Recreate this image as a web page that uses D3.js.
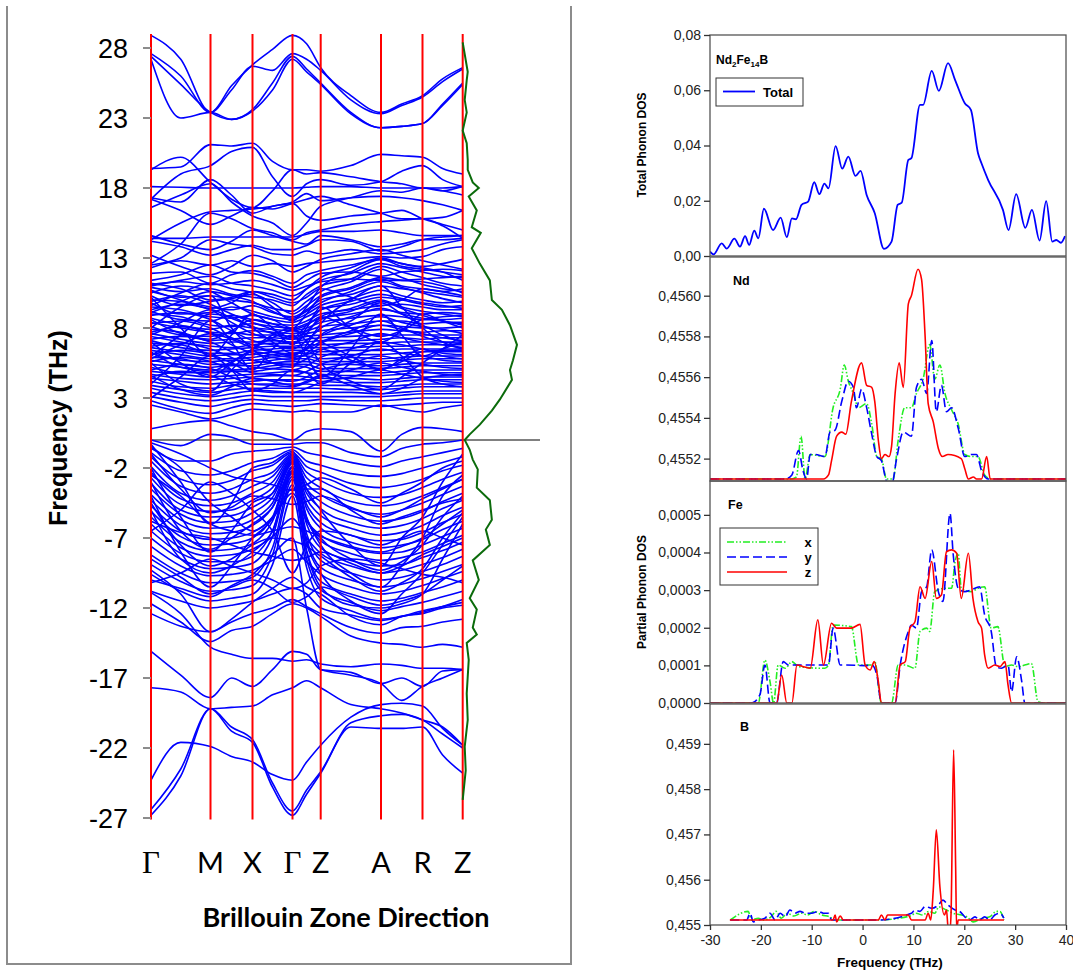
<!DOCTYPE html>
<html lang="en">
<head>
<meta charset="UTF-8">
<title>Nd2Fe14B phonon bands and DOS</title>
<style>
  body { margin: 0; background: #fff; }
  svg text { font-family: "Liberation Sans", Arial, sans-serif; }
</style>
</head>
<body>
<svg id="chart" width="1073" height="972"></svg>
<script src="https://d3js.org/d3.v7.min.js"></script>
<script>
// ---------- band structure data ----------
const kLabels = ["Γ", "M", "X", "Γ", "Z", "A", "R", "Z"];
const kPos = [0, 59.5, 101.5, 141.5, 169.7, 230, 271.5, 311.7];
const freqTicks = [28, 23, 18, 13, 8, 3, -2, -7, -12, -17, -22, -27];

// each band: values at Γ, mid, M, mid, X, mid, Γ, mid, Z, mid, A, mid, R, mid, Z
const bandsTop = [
  [28.9, 27.2, 23.4, 25.3, 26.8, 27.9, 28.9, 28.3, 26.6, 24.6, 23.4, 24.0, 24.6, 25.8, 26.6],
  [27.6, 26.0, 23.4, 25.0, 26.7, 26.4, 27.6, 27.2, 26.4, 24.3, 23.3, 23.9, 24.5, 25.6, 26.5],
  [27.4, 25.4, 23.4, 22.9, 23.6, 25.5, 27.4, 26.5, 25.5, 23.4, 22.3, 22.4, 22.6, 24.0, 25.5],
  [27.2, 23.0, 23.4, 22.9, 23.5, 25.0, 27.2, 26.3, 25.4, 23.3, 22.3, 22.4, 22.6, 23.9, 25.4]
];
const bandsUpper = [
  [19.4, 19.5, 21.1, 21.0, 21.2, 19.9, 19.3, 19.3, 19.2, 19.6, 20.4, 20.3, 20.2, 19.4, 19.0],
  [17.2, 19.0, 19.6, 20.6, 20.9, 18.8, 17.4, 18.3, 18.6, 18.2, 18.45, 19.2, 19.6, 18.6, 18.1],
  [18.1, 18.05, 18.0, 18.0, 18.0, 18.0, 18.0, 18.05, 18.1, 18.1, 18.0, 18.0, 18.0, 17.8, 17.5],
  [17.3, 17.0, 18.6, 17.5, 16.2, 16.7, 17.0, 17.6, 17.1, 17.3, 17.4, 17.3, 17.1, 16.8, 16.4],
  [14.4, 14.4, 14.5, 14.5, 14.5, 14.5, 14.5, 14.7, 14.9, 14.9, 15.0, 14.8, 14.6, 14.6, 14.6],
  [14.3, 15.5, 16.3, 16.4, 16.5, 16.7, 16.9, 16.0, 15.7, 16.0, 16.2, 16.4, 15.8, 15.4, 15.0],
  [16.6, 17.5, 18.3, 17.0, 16.0, 15.5, 14.6, 15.5, 16.7, 17.3, 17.8, 17.7, 18.0, 17.8, 18.1],
  [12.6, 14.0, 16.2, 15.8, 15.1, 14.8, 14.3, 14.8, 15.0, 15.4, 15.6, 15.7, 15.8, 15.3, 14.4],
  [14.2, 13.8, 13.2, 13.6, 13.9, 13.6, 13.6, 13.9, 14.3, 14.2, 13.5, 13.8, 14.3, 14.5, 14.6],
  [12.5, 13.0, 14.3, 14.0, 13.8, 13.3, 13.2, 13.5, 13.3, 13.6, 13.3, 13.4, 13.6, 14.0, 14.3],
  [12.3, 12.8, 12.5, 12.8, 12.4, 12.6, 12.4, 12.6, 12.7, 12.9, 13.1, 13.0, 13.1, 13.6, 13.8],
  [11.9, 12.0, 11.2, 11.8, 12.1, 11.7, 11.2, 11.8, 12.1, 12.5, 12.9, 12.6, 12.4, 12.6, 12.9],
  [11.4, 11.8, 12.5, 12.0, 11.9, 11.5, 10.9, 11.4, 11.9, 12.0, 11.7, 12.0, 12.1, 12.2, 12.1],
  [11.1, 11.3, 11.1, 11.2, 11.4, 11.1, 10.7, 11.0, 11.3, 11.5, 11.4, 11.4, 11.5, 11.6, 11.7],
  [19.3, 20.2, 18.4, 17.2, 16.6, 17.8, 19.3, 19.0, 19.1, 18.8, 18.45, 18.3, 18.0, 18.0, 18.1],
  [17.2, 16.4, 15.4, 16.0, 16.6, 16.5, 16.9, 17.2, 17.4, 16.8, 16.2, 15.8, 15.8, 15.9, 16.4],
  [14.6, 14.0, 13.6, 14.2, 15.0, 14.6, 14.2, 14.0, 14.6, 14.3, 13.8, 14.0, 14.3, 14.3, 14.4],
  [13.2, 12.4, 11.8, 12.4, 13.2, 12.8, 12.0, 12.4, 12.9, 13.3, 13.6, 13.2, 12.8, 12.5, 12.2]
];
const bandsDense = [
  [10.9, 10.6, 10.8, 10.4, 10.2, 10.0, 9.6, 10.4, 11.0, 11.5, 12.4, 12.0, 11.6, 11.2, 11.0],
  [10.6, 10.2, 10.3, 10.0, 9.8, 9.4, 9.2, 9.9, 10.6, 11.3, 12.2, 11.6, 11.1, 10.8, 10.6],
  [10.3, 9.6, 9.9, 10.1, 10.4, 9.8, 9.0, 9.6, 10.3, 10.9, 11.6, 11.4, 11.3, 11.0, 10.5],
  [10.0, 9.9, 9.5, 9.3, 9.6, 9.1, 8.8, 9.3, 10.0, 10.4, 11.0, 10.8, 10.6, 10.4, 10.2],
  [9.8, 9.0, 9.1, 9.5, 9.2, 8.8, 8.6, 9.0, 9.6, 10.1, 10.7, 10.3, 10.0, 9.8, 9.9],
  [9.5, 9.3, 8.8, 8.7, 8.9, 8.6, 8.4, 8.8, 9.3, 9.7, 10.2, 10.0, 9.7, 9.5, 9.6],
  [9.2, 8.6, 8.5, 8.9, 8.6, 8.3, 8.2, 8.5, 9.0, 9.3, 9.6, 9.7, 9.5, 9.3, 9.3],
  [9.0, 8.8, 8.2, 8.1, 8.3, 8.1, 8.0, 8.3, 8.7, 9.0, 9.3, 9.1, 9.0, 9.1, 9.0],
  [8.7, 8.2, 7.9, 8.2, 8.0, 7.9, 7.8, 8.0, 8.4, 8.7, 8.9, 8.8, 8.6, 8.6, 8.7],
  [8.4, 8.0, 7.7, 7.6, 7.8, 7.7, 7.6, 7.8, 8.1, 8.3, 8.5, 8.5, 8.3, 8.4, 8.4],
  [8.1, 7.5, 7.4, 7.7, 7.5, 7.5, 7.4, 7.6, 7.8, 8.0, 8.2, 8.1, 8.0, 8.0, 8.1],
  [7.9, 7.7, 7.1, 7.2, 7.3, 7.3, 7.2, 7.4, 7.5, 7.7, 7.9, 7.8, 7.7, 7.8, 7.8],
  [7.6, 7.2, 6.9, 7.0, 7.0, 7.1, 7.0, 7.2, 7.3, 7.4, 7.5, 7.5, 7.5, 7.5, 7.5],
  [7.4, 7.0, 6.7, 6.6, 6.8, 6.9, 6.9, 7.0, 7.1, 7.1, 7.2, 7.3, 7.2, 7.3, 7.3],
  [7.1, 6.6, 6.4, 6.5, 6.6, 6.7, 6.7, 6.8, 6.8, 6.9, 6.9, 7.0, 7.0, 7.0, 7.0],
  [6.9, 6.8, 6.2, 6.2, 6.4, 6.5, 6.6, 6.6, 6.6, 6.6, 6.7, 6.7, 6.8, 6.8, 6.8],
  [6.6, 6.3, 6.0, 6.1, 6.1, 6.3, 6.4, 6.4, 6.3, 6.4, 6.4, 6.5, 6.5, 6.5, 6.5],
  [6.4, 6.1, 5.8, 5.8, 5.9, 6.1, 6.2, 6.2, 6.1, 6.1, 6.1, 6.2, 6.3, 6.3, 6.3],
  [6.2, 5.7, 5.6, 5.7, 5.7, 5.9, 6.0, 6.0, 5.8, 5.9, 5.8, 5.9, 6.0, 6.0, 6.0],
  [5.9, 5.8, 5.4, 5.4, 5.5, 5.7, 5.8, 5.8, 5.6, 5.6, 5.6, 5.7, 5.8, 5.8, 5.8],
  [5.7, 5.4, 5.2, 5.3, 5.3, 5.5, 5.6, 5.6, 5.4, 5.4, 5.3, 5.4, 5.5, 5.5, 5.5],
  [5.4, 5.2, 5.0, 5.0, 5.1, 5.3, 5.4, 5.4, 5.1, 5.1, 5.1, 5.2, 5.3, 5.3, 5.3],
  [5.2, 4.8, 4.8, 4.9, 4.9, 5.1, 5.3, 5.2, 4.9, 4.9, 4.8, 4.9, 5.0, 5.0, 5.0],
  [4.9, 4.7, 4.5, 4.6, 4.7, 4.8, 4.9, 4.8, 4.7, 4.6, 4.6, 4.7, 4.8, 4.8, 4.8],
  [4.7, 4.4, 4.3, 4.4, 4.5, 4.6, 4.6, 4.5, 4.4, 4.4, 4.3, 4.4, 4.5, 4.5, 4.5],
  [4.4, 4.2, 4.0, 4.1, 4.2, 4.3, 4.3, 4.3, 4.2, 4.1, 4.1, 4.2, 4.3, 4.3, 4.3],
  [4.2, 3.8, 3.7, 3.9, 4.0, 4.0, 4.0, 4.0, 3.9, 3.9, 3.8, 3.9, 4.0, 4.0, 4.0],
  [3.9, 3.6, 3.4, 3.6, 3.7, 3.7, 3.7, 3.7, 3.7, 3.6, 3.6, 3.7, 3.8, 3.8, 3.8],
  [3.7, 3.3, 3.1, 3.3, 3.5, 3.4, 3.4, 3.4, 3.4, 3.4, 3.3, 3.4, 3.5, 3.5, 3.5],
  [3.4, 3.0, 2.8, 3.0, 3.2, 3.1, 3.1, 3.1, 3.1, 3.1, 3.1, 3.2, 3.3, 3.3, 3.3],
  [3.1, 2.7, 2.4, 2.7, 2.9, 2.8, 2.8, 2.8, 2.9, 2.8, 2.8, 2.9, 3.0, 3.0, 3.0],
  [2.8, 2.2, 1.9, 2.3, 2.6, 2.5, 2.4, 2.5, 2.6, 2.5, 2.4, 2.5, 2.6, 2.7, 2.7],
  [10.2, 8.0, 6.0, 7.5, 9.0, 8.0, 6.8, 8.0, 9.5, 8.0, 7.0, 7.8, 9.0, 8.5, 8.0],
  [4.0, 6.0, 8.5, 7.0, 5.0, 6.5, 7.5, 6.0, 4.5, 6.5, 9.0, 7.5, 6.0, 6.5, 7.0],
  [8.0, 9.5, 10.3, 8.0, 6.5, 5.5, 5.2, 6.8, 8.3, 10.0, 11.0, 9.5, 8.0, 7.0, 6.5],
  [5.5, 4.0, 3.5, 5.0, 6.5, 7.5, 8.0, 7.0, 5.5, 4.2, 3.6, 4.5, 5.5, 6.5, 7.5],
  [9.6, 10.5, 11.2, 10.8, 10.5, 9.5, 8.5, 9.5, 10.9, 12.0, 12.9, 12.4, 12.2, 12.0, 11.8],
  [3.0, 4.5, 6.0, 5.0, 3.5, 4.0, 5.0, 4.8, 4.0, 5.5, 7.0, 6.0, 4.5, 4.0, 3.8],
  [7.0, 5.5, 4.5, 5.5, 6.5, 7.3, 7.8, 7.5, 7.0, 6.0, 5.0, 5.8, 6.5, 6.0, 5.8],
  [6.0, 7.5, 9.0, 8.8, 8.0, 7.0, 6.2, 6.5, 7.5, 8.5, 9.8, 9.0, 8.2, 7.5, 7.0],
  [2.5, 2.0, 1.5, 1.8, 2.2, 2.1, 2.0, 2.1, 2.0, 2.0, 2.5, 2.2, 2.0, 2.3, 2.5],
  [11.2, 10.8, 10.0, 10.2, 10.6, 10.4, 10.0, 10.8, 11.6, 12.3, 13.0, 12.6, 12.3, 12.0, 11.4],
  [10.5, 11.0, 10.6, 9.8, 9.0, 8.6, 8.0, 9.0, 10.2, 10.8, 11.5, 11.0, 10.8, 10.6, 10.3],
  [9.9, 10.3, 9.7, 9.0, 8.4, 7.9, 7.3, 8.2, 9.3, 9.9, 10.4, 10.1, 9.8, 9.6, 9.4],
  [9.3, 9.7, 9.3, 8.4, 7.6, 7.2, 6.9, 7.6, 8.8, 9.4, 10.0, 9.5, 9.2, 9.0, 8.8],
  [8.9, 9.1, 8.6, 7.8, 7.1, 6.8, 6.5, 7.1, 8.0, 8.8, 9.4, 9.0, 8.7, 8.5, 8.2],
  [8.3, 8.5, 8.0, 7.3, 6.8, 6.3, 6.0, 6.6, 7.4, 8.2, 8.8, 8.4, 8.1, 7.9, 7.6],
  [7.7, 8.1, 7.6, 6.8, 6.2, 5.9, 5.7, 6.2, 6.9, 7.6, 8.2, 7.9, 7.6, 7.3, 7.1],
  [7.2, 7.4, 7.0, 6.3, 5.7, 5.5, 5.4, 5.8, 6.4, 7.0, 7.6, 7.3, 7.0, 6.8, 6.6],
  [6.7, 6.9, 6.5, 5.9, 5.2, 5.1, 5.0, 5.3, 5.9, 6.5, 7.0, 6.8, 6.5, 6.2, 6.1],
  [6.1, 6.4, 6.1, 5.5, 4.8, 4.7, 4.6, 4.9, 5.4, 6.0, 6.5, 6.2, 6.0, 5.7, 5.6],
  [5.6, 5.9, 5.6, 5.0, 4.4, 4.3, 4.2, 4.5, 5.0, 5.5, 6.0, 5.7, 5.4, 5.2, 5.1],
  [5.0, 5.4, 5.1, 4.5, 4.0, 3.9, 3.8, 4.1, 4.5, 5.0, 5.5, 5.2, 4.9, 4.7, 4.6],
  [4.5, 4.9, 4.6, 4.0, 3.6, 3.5, 3.4, 3.7, 4.1, 4.5, 5.0, 4.7, 4.4, 4.2, 4.1],
  [10.7, 10.0, 9.4, 9.8, 10.6, 10.2, 9.8, 10.2, 10.8, 10.2, 9.6, 10.0, 10.8, 10.6, 10.8],
  [8.6, 7.6, 7.2, 7.8, 8.6, 8.3, 7.9, 8.2, 8.8, 8.0, 7.4, 7.8, 8.6, 8.8, 8.9],
  [6.3, 5.2, 4.9, 5.6, 6.3, 6.1, 5.9, 6.1, 6.5, 5.7, 5.1, 5.6, 6.3, 6.4, 6.4],
  [4.6, 3.6, 3.2, 3.8, 4.4, 4.2, 3.9, 4.2, 4.6, 3.9, 3.3, 3.7, 4.4, 4.6, 4.7],
  [11.0, 11.4, 11.7, 11.2, 11.0, 10.7, 10.3, 10.8, 11.4, 11.9, 12.6, 12.3, 12.0, 11.7, 11.6],
  [9.1, 9.9, 10.6, 10.3, 9.9, 9.2, 8.7, 9.2, 9.8, 10.6, 11.3, 10.9, 10.5, 10.1, 9.8],
  [7.5, 8.4, 9.3, 8.7, 8.1, 7.6, 7.2, 7.8, 8.6, 9.2, 9.9, 9.4, 8.9, 8.5, 8.3],
  [5.8, 6.8, 7.6, 7.2, 6.6, 6.3, 6.1, 6.5, 7.0, 7.8, 8.5, 8.0, 7.4, 7.0, 6.9]
];
const bandsNeg = [
  [0.8, 1.2, 1.4, 1.0, 0.6, 0.4, 0.0, 0.6, 0.8, 0.6, -0.8, 0.4, 0.9, 0.8, 0.6],
  [0.0, -0.4, 0.4, 0.2, -0.3, -0.3, -0.3, -0.2, -0.2, -0.9, -1.2, -0.6, -0.3, -0.2, 0.0],
  [-0.5, -1.5, -1.5, -1.0, -0.8, -0.7, -0.5, -0.9, -1.1, -1.6, -1.9, -1.5, -1.2, -0.9, -0.6],
  [-0.9, -2.2, -2.5, -2.2, -1.6, -1.3, -0.7, -1.5, -1.8, -2.4, -2.6, -2.4, -2.0, -1.6, -1.2],
  [-1.2, -2.8, -3.2, -2.9, -2.2, -1.8, -0.9, -1.9, -2.3, -3.1, -3.4, -3.2, -2.8, -2.2, -1.8],
  [-1.5, -3.3, -3.8, -3.5, -2.8, -2.3, -1.0, -2.3, -2.9, -3.8, -4.1, -3.9, -3.4, -2.8, -2.3],
  [-1.9, -3.8, -4.3, -4.0, -3.3, -2.6, -1.1, -2.7, -3.4, -4.4, -4.7, -4.5, -4.0, -3.4, -2.8],
  [-2.3, -4.2, -4.7, -4.5, -3.8, -3.0, -1.2, -3.1, -3.9, -4.9, -5.3, -5.0, -4.5, -3.9, -3.3],
  [-2.7, -4.6, -5.1, -5.0, -4.3, -3.4, -1.3, -3.5, -4.4, -5.4, -5.8, -5.6, -5.1, -4.4, -3.8],
  [-3.1, -5.0, -5.5, -5.4, -4.8, -3.8, -1.4, -3.8, -4.9, -5.9, -6.3, -6.1, -5.6, -4.9, -4.3],
  [-3.5, -5.3, -5.9, -5.8, -5.2, -4.1, -1.5, -4.2, -5.4, -6.3, -6.8, -6.6, -6.1, -5.4, -4.8],
  [-3.9, -5.7, -6.3, -6.2, -5.7, -4.5, -1.6, -4.6, -5.9, -6.8, -7.2, -7.1, -6.6, -5.9, -5.3],
  [-4.3, -6.1, -6.7, -6.6, -6.1, -4.8, -1.7, -4.9, -6.3, -7.3, -7.7, -7.5, -7.1, -6.4, -5.8],
  [-4.7, -6.5, -7.1, -7.0, -6.6, -5.6, -3.8, -5.8, -6.8, -7.7, -8.1, -8.0, -7.5, -6.9, -6.3],
  [-5.1, -6.9, -7.5, -7.4, -7.0, -5.5, -1.9, -5.6, -7.2, -8.1, -8.6, -8.4, -8.0, -7.4, -6.8],
  [-5.5, -7.3, -7.9, -7.8, -7.4, -5.8, -2.0, -6.0, -7.7, -8.6, -9.0, -8.9, -8.4, -7.9, -7.3],
  [-6.0, -7.7, -8.3, -8.2, -7.8, -6.9, -5.6, -7.0, -8.1, -9.0, -9.5, -9.3, -8.9, -8.4, -7.8],
  [-6.5, -8.1, -8.7, -8.7, -8.3, -6.5, -2.2, -6.7, -8.6, -9.5, -10.0, -9.8, -9.4, -8.9, -8.3],
  [-7.0, -8.5, -9.2, -9.1, -8.8, -6.9, -2.3, -7.1, -9.1, -10.0, -10.5, -10.3, -9.9, -9.4, -8.9],
  [-7.6, -9.0, -9.7, -9.6, -9.3, -8.6, -7.8, -8.7, -9.6, -10.5, -11.0, -10.8, -10.4, -9.9, -9.4],
  [-8.2, -9.5, -10.2, -10.1, -9.8, -7.7, -2.8, -7.9, -10.1, -11.0, -11.5, -11.3, -10.9, -10.5, -10.0],
  [-8.9, -10.1, -10.8, -10.7, -10.4, -8.2, -3.2, -8.5, -10.7, -11.6, -12.2, -11.9, -11.6, -11.2, -10.8],
  [-9.6, -10.8, -11.5, -11.3, -11.0, -8.9, -4.0, -9.1, -11.3, -12.2, -12.8, -12.6, -12.3, -11.9, -11.4],
  [-0.3, -3.0, -6.0, -4.5, -2.0, -1.6, -0.8, -3.5, -5.0, -7.5, -9.0, -7.0, -5.5, -3.0, -1.0],
  [-2.0, -5.5, -8.0, -6.5, -4.5, -3.8, -1.6, -5.5, -7.5, -9.5, -10.5, -9.0, -7.0, -4.0, -2.5],
  [-4.0, -8.0, -10.5, -9.0, -7.0, -5.6, -2.4, -7.4, -9.5, -11.5, -12.4, -11.0, -9.5, -7.5, -5.5],
  [-0.6, -2.0, -4.5, -5.5, -6.5, -5.5, -3.5, -3.5, -3.5, -5.0, -6.0, -5.5, -5.0, -4.5, -4.2],
  [-6.5, -5.0, -3.0, -3.8, -5.0, -6.5, -9.5, -7.5, -6.5, -6.8, -7.5, -7.0, -6.5, -7.0, -7.5],
  [-10.2, -9.5, -8.5, -9.0, -9.5, -10.0, -10.6, -10.2, -9.0, -8.5, -8.8, -9.2, -9.6, -9.8, -10.2],
  [-10.8, -11.5, -12.0, -11.8, -11.5, -11.0, -10.6, -11.0, -12.0, -12.5, -12.9, -12.6, -12.2, -11.9, -11.6],
  [-3.0, -6.5, -7.8, -7.0, -6.0, -4.8, -2.2, -5.6, -7.0, -8.5, -9.3, -8.7, -7.5, -5.5, -4.0],
  [-5.0, -8.5, -9.5, -9.0, -8.0, -6.5, -2.6, -8.0, -10.5, -11.8, -12.0, -11.7, -11.0, -8.5, -6.0],
  [-1.0, -3.5, -5.2, -4.8, -4.0, -4.2, -4.6, -4.4, -4.0, -4.8, -5.5, -5.0, -4.2, -3.5, -2.8],
  [-2.5, -4.0, -6.0, -6.5, -6.8, -6.5, -6.2, -6.5, -6.9, -7.6, -8.0, -7.6, -7.0, -6.0, -5.0],
  [-5.8, -6.6, -7.0, -7.5, -8.0, -8.3, -8.6, -8.4, -8.0, -8.8, -9.5, -9.0, -8.2, -7.6, -7.0],
  [-8.5, -9.8, -11.0, -10.5, -10.0, -10.6, -11.6, -11.2, -10.5, -11.2, -11.8, -11.5, -11.0, -10.0, -9.0],
  [-0.2, -1.0, -2.0, -2.6, -2.9, -3.2, -3.6, -3.2, -2.7, -3.5, -4.5, -3.8, -3.0, -2.0, -1.5],
  [-4.5, -7.5, -9.0, -8.5, -7.5, -7.0, -7.2, -7.6, -8.3, -9.8, -10.8, -10.2, -9.2, -7.0, -5.2]
];
const bandsLow = [
  [-26.8, -24.0, -19.2, -20.8, -21.6, -24.8, -26.8, -25.3, -23.8, -20.5, -20.6, -20.6, -20.5, -22.5, -23.8],
  [-26.4, -23.5, -19.2, -20.5, -21.4, -24.5, -26.5, -25.0, -23.7, -20.2, -19.7, -19.6, -20.0, -21.0, -22.0],
  [-24.3, -21.6, -21.9, -22.6, -23.0, -23.9, -24.3, -23.0, -21.8, -19.8, -18.9, -18.8, -19.0, -20.6, -21.8],
  [-15.1, -16.8, -18.4, -17.0, -17.6, -16.4, -15.1, -15.3, -16.4, -16.6, -17.4, -17.0, -17.6, -16.5, -16.4],
  [-17.7, -18.0, -19.2, -19.1, -19.0, -18.2, -17.7, -17.2, -17.7, -18.9, -19.2, -19.5, -20.0, -20.5, -21.8],
  [-11.7, -13.0, -14.4, -13.6, -13.3, -12.4, -11.7, -12.0, -12.6, -14.0, -14.5, -14.6, -14.8, -14.6, -14.8],
  [-12.4, -13.3, -13.7, -13.0, -12.4, -12.0, -11.4, -11.9, -12.4, -13.4, -13.8, -13.4, -13.3, -13.0, -12.8],
  [-10.9, -12.4, -14.8, -15.3, -15.6, -15.6, -15.8, -15.7, -16.0, -16.2, -16.0, -16.1, -16.3, -16.3, -16.4],
  [-10.0, -10.6, -11.2, -10.4, -9.6, -8.2, -7.0, -12.0, -16.4, -16.8, -17.4, -18.6, -17.6, -17.0, -16.4],
  [-9.3, -11.0, -13.7, -12.8, -11.6, -10.6, -9.8, -10.5, -11.0, -12.6, -13.2, -12.6, -12.4, -12.0, -11.8]
];
// projected DOS beside the bands: [frequency THz, DOS]
const sideDos = [[28.4, 0], [26.3, 0.005], [25.7, 0.004], [24.3, 0.002], [23.4, 0.004], [22.1, 0],
  [21.2, 0.004], [20, 0.005], [19.3, 0.005], [18.4, 0.010], [18, 0.016], [17.4, 0.006], [16.4, 0.014],
  [15.2, 0.009], [14.8, 0.018], [13.7, 0.009], [12.6, 0.017], [11.4, 0.027], [10, 0.029], [9.3, 0.039],
  [8.2, 0.047], [6.8, 0.054], [5.7, 0.050], [5, 0.047], [4.3, 0.049], [2.9, 0.037], [2.1, 0.029],
  [1.1, 0.017], [0.4, 0.007], [0, 0.002], [-0.7, 0.007], [-1.4, 0.010], [-2.1, 0.015], [-3.4, 0.014],
  [-4.3, 0.027], [-5.7, 0.029], [-6.4, 0.023], [-7.5, 0.027], [-8.6, 0.010], [-10, 0.016], [-11.3, 0.007],
  [-12.1, 0.014], [-13.4, 0.010], [-13.9, 0.014], [-14.5, 0.004], [-15.7, 0.006], [-18.1, 0.004],
  [-20, 0.005], [-21.9, 0.002], [-23.6, 0.003], [-25.7, 0]];

// ---------- DOS panels data: [frequency THz, value] ----------
const totalDos = [[-30, 0.0016], [-29.3, 0.0006], [-27.7, 0.0046], [-26.7, 0.0027], [-25.2, 0.0063],
  [-24.1, 0.0034], [-23.1, 0.0072], [-22.3, 0.004], [-21.3, 0.0092], [-20.5, 0.0064], [-19.4, 0.0171],
  [-17.6, 0.0094], [-16.1, 0.0139], [-14.9, 0.0068], [-13.9, 0.0136], [-13.1, 0.0133], [-12.0, 0.0185],
  [-10.7, 0.0197], [-9.5, 0.0267], [-8.5, 0.0224], [-7.5, 0.0262], [-6.7, 0.0245], [-5.3, 0.0398],
  [-4.0, 0.0316], [-2.8, 0.036], [-1.4, 0.029], [-0.4, 0.0308], [0.8, 0.0221], [2.4, 0.0155],
  [4.2, 0.0026], [5.7, 0.0052], [6.9, 0.0185], [7.7, 0.0193], [9.0, 0.0348], [9.6, 0.0354],
  [11.3, 0.0547], [11.9, 0.0547], [13.6, 0.067], [15.0, 0.0598], [16.8, 0.0698], [18.2, 0.0637],
  [20.1, 0.0553], [21.3, 0.0529], [22.7, 0.0372], [23.4, 0.0335], [24.7, 0.0275], [27.6, 0.0167],
  [28.7, 0.0094], [30.2, 0.0224], [32.0, 0.0102], [33.3, 0.0167], [34.8, 0.0056], [36.1, 0.0199],
  [37.3, 0.0052], [38.1, 0.0058], [39.0, 0.0048], [39.8, 0.0072]];

const ndX = [[-30, 0.4551], [-13.9, 0.4551], [-13.0, 0.45511], [-12.1, 0.45531], [-11.3, 0.4551],
  [-10.3, 0.45522], [-7.4, 0.45521], [-5.8, 0.45545], [-4.4, 0.45554], [-3.6, 0.45566], [-2.8, 0.45558],
  [-1.8, 0.45552], [-0.8, 0.45545], [0.8, 0.45547], [1.8, 0.45537], [2.8, 0.45521], [3.7, 0.4552],
  [4.7, 0.4551], [6.0, 0.4551], [7.0, 0.45529], [8.3, 0.45545], [9.6, 0.45545], [10.6, 0.45552],
  [11.9, 0.45559], [13.2, 0.45576], [14.2, 0.45559], [15.2, 0.45566], [16.2, 0.45552], [17.5, 0.45544],
  [18.8, 0.45537], [20.1, 0.45522], [21.4, 0.45521], [22.7, 0.45521], [24.0, 0.45512], [25.3, 0.4551],
  [40, 0.4551]];
const ndY = [[-30, 0.4551], [-15.2, 0.4551], [-13.9, 0.45512], [-12.6, 0.45524], [-11.7, 0.45514],
  [-11.0, 0.4551], [-10.3, 0.45522], [-9.4, 0.45522], [-7.4, 0.45521], [-6.4, 0.45533], [-5.4, 0.45534],
  [-4.1, 0.45548], [-2.8, 0.45558], [-1.8, 0.45555], [-1.2, 0.45545], [-0.2, 0.45554], [0.8, 0.45545],
  [1.8, 0.45532], [2.8, 0.45521], [3.7, 0.45519], [4.7, 0.45509], [5.7, 0.45507], [6.7, 0.4552],
  [8.0, 0.45533], [9.6, 0.45531], [10.6, 0.45555], [11.6, 0.45559], [12.6, 0.45552], [13.6, 0.45578],
  [14.5, 0.45543], [15.5, 0.45556], [16.5, 0.45543], [17.5, 0.45545], [18.8, 0.45535], [20.1, 0.45521],
  [21.4, 0.45522], [22.4, 0.45522], [23.4, 0.45514], [24.7, 0.4551], [26.0, 0.4551], [40, 0.4551]];
const ndZ = [[-30, 0.4551], [-7.7, 0.4551], [-6.7, 0.45512], [-6.1, 0.45519], [-5.1, 0.45531],
  [-4.1, 0.45533], [-3.3, 0.45532], [-2.2, 0.45548], [-0.2, 0.45567], [0.8, 0.45556], [1.8, 0.45555],
  [2.4, 0.45548], [3.1, 0.45529], [3.7, 0.4552], [4.4, 0.45522], [5.2, 0.45521], [5.7, 0.45526],
  [6.4, 0.45552], [7.2, 0.45567], [8.0, 0.45555], [9.0, 0.45596], [9.6, 0.456], [10.9, 0.45613],
  [11.6, 0.45608], [12.3, 0.4558], [12.9, 0.45547], [13.9, 0.45538], [14.9, 0.45525], [15.7, 0.45521],
  [16.8, 0.45522], [19.4, 0.4552], [20.1, 0.45515], [20.8, 0.4551], [21.8, 0.45511], [22.4, 0.4551],
  [23.4, 0.4551], [24.4, 0.45521], [25.1, 0.4551], [40, 0.4551]];

const feX = [[-30, 0], [-20.5, 0], [-19.2, 0.000114], [-18.2, 0.0000567], [-17.5, 0], [-16.6, 0.000101],
  [-15.2, 0.0000922], [-13.9, 0.00011], [-12.6, 0.0000966], [-7.4, 0.0000922], [-6.7, 0.000101],
  [-5.8, 0.000207], [-2.2, 0.000203], [-0.8, 0.000101], [1.8, 0.000101], [2.4, 0.00011], [3.7, 0],
  [5.7, 0], [7.0, 0.000101], [8.3, 0.000101], [10.3, 0.0000922], [11.3, 0.00019], [12.6, 0.000199],
  [13.2, 0.00019], [14.2, 0.000296], [16.2, 0.000305], [17.5, 0.000305], [18.2, 0.000376],
  [18.8, 0.000398], [19.4, 0.000305], [21.4, 0.000296], [22.7, 0.000305], [24.0, 0.000309],
  [25.3, 0.000199], [26.6, 0.000203], [28.0, 0.0000966], [29.3, 0.000101], [30.6, 0.0000966],
  [31.9, 0.000101], [33.2, 0.000105], [34.5, 0.0000035], [35.8, 0], [40, 0]];
const feY = [[-30, 0], [-21.8, 0], [-20.2, 0.0000213], [-19.2, 0.000101], [-18.2, 0], [-16.9, 0],
  [-15.6, 0.00011], [-14.6, 0.000101], [-13.3, 0.000101], [-8.7, 0.000101], [-6.7, 0.000101],
  [-5.8, 0.000199], [-4.4, 0.000101], [-3.5, 0.000101], [0.5, 0.0000993], [1.8, 0.000101],
  [2.8, 0.0000745], [3.7, 0], [6.4, 0], [7.4, 0.000101], [9.0, 0.00019], [9.6, 0.000207],
  [10.6, 0.000199], [11.6, 0.000296], [12.6, 0.000309], [13.6, 0.000407], [14.9, 0.000296],
  [15.8, 0.00027], [17.2, 0.000504], [17.8, 0.000398], [18.8, 0.000305], [20.1, 0.000296],
  [21.4, 0.000301], [23.0, 0.000309], [24.0, 0.000234], [25.3, 0.00019], [26.3, 0.0000966],
  [27.3, 0.0000922], [28.6, 0.000101], [29.3, 0.0000301], [30.3, 0.000123], [31.3, 0.0000567],
  [31.9, 0], [40, 0]];
const feZ = [[-30, 0], [-16.9, 0], [-15.9, 0.0000745], [-14.9, 0], [-13.9, 0], [-12.9, 0.000101],
  [-11.6, 0.0000966], [-10.3, 0.0000922], [-8.8, 0.000221], [-7.7, 0.000101], [-6.1, 0.000212],
  [-5.1, 0.000199], [-2.2, 0.000199], [-0.5, 0.000209], [0.5, 0.000101], [1.5, 0.0000878],
  [2.3, 0.00011], [3.1, 0.0000567], [3.7, 0], [6.4, 0], [7.4, 0.000101], [8.4, 0.00011],
  [9.3, 0.000199], [10.3, 0.000216], [11.3, 0.000309], [12.3, 0.000278], [13.6, 0.000376],
  [14.5, 0.000278], [15.5, 0.000287], [16.5, 0.000402], [17.5, 0.000407], [18.5, 0.000398],
  [19.4, 0.000278], [20.8, 0.000398], [21.7, 0.000278], [22.7, 0.000216], [23.4, 0.000199],
  [24.0, 0.000128], [24.7, 0.0000922], [26.0, 0.000101], [27.0, 0.0000966], [28.0, 0.00011],
  [28.6, 0.0000479], [29.3, 0], [40, 0]];

const bX = [[-26, 0.45511], [-22.5, 0.4553], [-21.8, 0.45511], [-20.5, 0.45515], [-19.5, 0.45511],
  [-18.0, 0.45518], [-17.0, 0.4553], [-16.0, 0.45515], [-14.8, 0.45526], [-13.5, 0.4552], [-12.0, 0.45526],
  [-10.8, 0.45522], [-9.5, 0.4553], [-8.0, 0.45522], [-6.5, 0.45518], [-5.5, 0.45511], [3.0, 0.45511],
  [9.4, 0.4552], [10.5, 0.45526], [11.8, 0.45522], [13.0, 0.4553], [14.2, 0.45526], [15.0, 0.4554],
  [16.5, 0.45533], [17.8, 0.45526], [19.5, 0.45522], [20.5, 0.45518], [21.8, 0.45507], [23.5, 0.45515],
  [25.0, 0.45518], [26.3, 0.4553], [27.0, 0.4553], [27.8, 0.45511]];
const bY = [[-26, 0.45511], [-22.8, 0.45511], [-22.1, 0.45526], [-21.5, 0.45507], [-20.5, 0.45511],
  [-19.2, 0.45515], [-18.2, 0.45526], [-17.2, 0.45511], [-16.2, 0.45526], [-15.2, 0.45518],
  [-14.3, 0.45533], [-13.3, 0.45526], [-12.3, 0.4553], [-11.3, 0.45526], [-10.0, 0.45526],
  [-8.7, 0.4553], [-7.7, 0.45526], [-6.7, 0.45526], [-6.1, 0.45511], [-4.8, 0.45511], [3.1, 0.45511],
  [9.6, 0.45526], [10.3, 0.45533], [11.3, 0.4553], [12.3, 0.45541], [13.6, 0.45537], [14.9, 0.45544],
  [15.8, 0.45555], [16.8, 0.45544], [18.2, 0.45533], [19.1, 0.4553], [20.1, 0.45518], [21.1, 0.45511],
  [22.1, 0.45518], [23.0, 0.45511], [24.0, 0.45518], [25.0, 0.45511], [26.0, 0.45522], [27.0, 0.45526],
  [27.8, 0.45515]];
const bZ = [[-26.1, 0.45511], [-5.8, 0.45511], [-5.4, 0.45522], [-5.1, 0.45507], [-4.4, 0.4552],
  [-3.8, 0.45511], [3.1, 0.45511], [3.7, 0.45522], [4.4, 0.45511], [4.9, 0.45522], [9.0, 0.45522],
  [9.6, 0.45511], [12.3, 0.45511], [12.9, 0.45526], [13.4, 0.45511], [13.9, 0.45577], [14.5, 0.4571],
  [15.2, 0.45585], [16.1, 0.45522], [16.5, 0.45533], [16.8, 0.45496], [17.2, 0.45489], [17.4, 0.45526],
  [17.9, 0.45887], [18.3, 0.45629], [18.5, 0.45489], [18.8, 0.45511], [27.8, 0.45511]];

const freqAxisTicks = [-30, -20, -10, 0, 10, 20, 30, 40];

// ---------- drawing ----------
const svg = d3.select("#chart");
const locale = d3.formatLocale({ decimal: ",", thousands: ".", grouping: [3], currency: ["", ""] });

// left panel frame
svg.append("path")
  .attr("d", "M7,6 V964 H571 V6")
  .attr("fill", "none").attr("stroke", "#8c8c8c").attr("stroke-width", 2);

const kSample = kPos.flatMap((k, i) => i < kPos.length - 1 ? [k, (k + kPos[i + 1]) / 2] : [k]);
const bx = d3.scaleLinear().domain([0, kPos[kPos.length - 1]]).range([151, 462.7]);
const by = d3.scaleLinear().domain([28, -27]).range([48, 818]);

// zero line
svg.append("line")
  .attr("x1", bx(0)).attr("x2", 540).attr("y1", by(0)).attr("y2", by(0))
  .attr("stroke", "#808080").attr("stroke-width", 2);

const bandLine = d3.line()
  .x((d, i) => bx(kSample[i]))
  .y(d => by(d))
  .curve(d3.curveMonotoneX);

const allBands = [].concat(bandsLow, bandsNeg, bandsDense, bandsUpper, bandsTop);
svg.append("g")
  .selectAll("path")
  .data(allBands)
  .join("path")
  .attr("d", bandLine)
  .attr("fill", "none")
  .attr("stroke", "#0000ff")
  .attr("stroke-width", 1.6);

// high symmetry lines
svg.append("g")
  .selectAll("line")
  .data(kPos)
  .join("line")
  .attr("x1", d => bx(d)).attr("x2", d => bx(d))
  .attr("y1", by(29)).attr("y2", by(-27.1))
  .attr("stroke", "#ff0000").attr("stroke-width", 2);

// side DOS
const sx = d3.scaleLinear().domain([0, 0.055]).range([bx(kPos[kPos.length - 1]), 518]);
svg.append("path")
  .datum(sideDos)
  .attr("d", d3.line().x(d => sx(d[1])).y(d => by(d[0])))
  .attr("fill", "none")
  .attr("stroke", "#0b6b0b")
  .attr("stroke-width", 2);

// frequency ticks
const tk = svg.append("g");
tk.selectAll("line")
  .data(freqTicks)
  .join("line")
  .attr("x1", 143).attr("x2", bx(0))
  .attr("y1", d => by(d)).attr("y2", d => by(d))
  .attr("stroke", "#8c8c8c").attr("stroke-width", 2);
tk.selectAll("text")
  .data(freqTicks)
  .join("text")
  .attr("x", 128).attr("y", d => by(d))
  .attr("dy", "0.36em")
  .attr("text-anchor", "end")
  .style("font-size", "27px")
  .text(d => String(d));

// k labels
svg.append("g")
  .selectAll("text")
  .data(kLabels)
  .join("text")
  .attr("x", (d, i) => bx(kPos[i]))
  .attr("y", 873)
  .attr("text-anchor", "middle")
  .style("font-family", d => d === "Γ" ? "'Liberation Serif', serif" : "Lato, sans-serif")
  .style("font-size", d => d === "Γ" ? "31px" : "29px")
  .text(d => d);

svg.append("text")
  .attr("x", 346).attr("y", 927)
  .attr("text-anchor", "middle")
  .style("font-family", "Lato, sans-serif")
  .style("font-weight", "bold")
  .style("font-size", "27px")
  .text("Brillouin Zone Direction");

svg.append("text")
  .attr("transform", "translate(67,428) rotate(-90)")
  .attr("text-anchor", "middle")
  .style("font-weight", "bold")
  .style("font-size", "25px")
  .text("Frequency (THz)");

// ---------- right panels ----------
const fx = d3.scaleLinear().domain([-30, 40]).range([710, 1066]);

function panel(top, bottom, domain, ticks, fmt, series, id) {
  const y = d3.scaleLinear().domain(domain).range([bottom, top]);
  svg.append("clipPath").attr("id", id)
    .append("rect").attr("x", fx.range()[0]).attr("y", top)
    .attr("width", fx.range()[1] - fx.range()[0]).attr("height", bottom - top);
  const g = svg.append("g").attr("clip-path", `url(#${id})`);
  series.forEach(s => {
    g.append("path")
      .datum(s.data)
      .attr("d", d3.line().x(d => fx(d[0])).y(d => y(d[1])).curve(d3.curveMonotoneX))
      .attr("fill", "none")
      .attr("stroke", s.color)
      .attr("stroke-width", s.width || 1.6)
      .attr("stroke-dasharray", s.dash || null);
  });
  svg.append("rect")
    .attr("x", fx.range()[0]).attr("y", top)
    .attr("width", fx.range()[1] - fx.range()[0]).attr("height", bottom - top)
    .attr("fill", "none").attr("stroke", "#555").attr("stroke-width", 1.3);
  const ax = svg.append("g")
    .attr("transform", `translate(${fx.range()[0]},0)`)
    .call(d3.axisLeft(y).tickValues(ticks).tickSize(6).tickPadding(3).tickFormat(locale.format(fmt)));
  ax.select(".domain").remove();
  ax.selectAll("line").attr("stroke", "#333").attr("stroke-width", 1.3);
  ax.selectAll("text").style("font-size", "14px").attr("fill", "#222")
    .style("font-family", "'Liberation Sans', Arial, sans-serif");
  return y;
}

const colX = "#22ee22", colY = "#0000ff", colZ = "#ff0000";
const dashX = "7,2,1.5,2,1.5,2", dashY = "9,4";

panel(35, 256, [0, 0.08], [0, 0.02, 0.04, 0.06, 0.08], ".2f",
  [{ data: totalDos, color: "#0000ff", width: 1.8 }], "cTot");
panel(257, 481, [0.45509, 0.45619], [0.4552, 0.4554, 0.4556, 0.4558, 0.456], ".4f",
  [{ data: ndX, color: colX, dash: dashX }, { data: ndY, color: colY, dash: dashY }, { data: ndZ, color: colZ }], "cNd");
panel(481, 703, [0, 0.00059], [0, 0.0001, 0.0002, 0.0003, 0.0004, 0.0005], ".4f",
  [{ data: feX, color: colX, dash: dashX }, { data: feY, color: colY, dash: dashY }, { data: feZ, color: colZ }], "cFe");
panel(704, 925, [0.455, 0.45988], [0.455, 0.456, 0.457, 0.458, 0.459], ".3f",
  [{ data: bX, color: colX, dash: dashX }, { data: bY, color: colY, dash: dashY }, { data: bZ, color: colZ }], "cB");

// frequency axis
const xa = svg.append("g")
  .attr("transform", "translate(0,925)")
  .call(d3.axisBottom(fx).tickValues(freqAxisTicks).tickSize(5).tickPadding(5).tickFormat(d => String(d)));
xa.select(".domain").remove();
xa.selectAll("line").attr("stroke", "#333").attr("stroke-width", 1.3);
xa.selectAll("text").style("font-size", "14px").attr("fill", "#222")
  .style("font-family", "'Liberation Sans', Arial, sans-serif");

svg.append("text")
  .attr("x", 890).attr("y", 967)
  .attr("text-anchor", "middle")
  .style("font-weight", "bold").style("font-size", "13.5px")
  .text("Frequency (THz)");

svg.append("text")
  .attr("transform", "translate(646,145) rotate(-90)")
  .attr("text-anchor", "middle")
  .style("font-weight", "bold").style("font-size", "12px")
  .text("Total Phonon DOS");
svg.append("text")
  .attr("transform", "translate(646,592) rotate(-90)")
  .attr("text-anchor", "middle")
  .style("font-weight", "bold").style("font-size", "12px")
  .text("Partial Phonon DOS");

// panel titles
const title = svg.append("text").attr("x", 716).attr("y", 64)
  .style("font-weight", "bold").style("font-size", "12px");
title.append("tspan").text("Nd");
title.append("tspan").attr("dy", 3).style("font-size", "8px").text("2");
title.append("tspan").attr("dy", -3).text("Fe");
title.append("tspan").attr("dy", 3).style("font-size", "8px").text("14");
title.append("tspan").attr("dy", -3).text("B");

[["Nd", 733, 285], ["Fe", 728, 509], ["B", 740, 731]].forEach(([t, x, y]) => {
  svg.append("text").attr("x", x).attr("y", y)
    .style("font-weight", "bold").style("font-size", "12.5px").text(t);
});

// Total legend
svg.append("rect").attr("x", 716).attr("y", 78).attr("width", 87).attr("height", 28)
  .attr("fill", "#fff").attr("stroke", "#333").attr("stroke-width", 1);
svg.append("line").attr("x1", 723).attr("x2", 755).attr("y1", 91.5).attr("y2", 91.5)
  .attr("stroke", "#0000ff").attr("stroke-width", 1.8);
svg.append("text").attr("x", 763).attr("y", 96.5)
  .style("font-weight", "bold").style("font-size", "13px").text("Total");

// x/y/z legend
const legendItems = [
  { name: "x", color: colX, dash: dashX },
  { name: "y", color: colY, dash: dashY },
  { name: "z", color: colZ, dash: null }
];
svg.append("rect").attr("x", 720).attr("y", 528).attr("width", 98).attr("height", 57)
  .attr("fill", "#fff").attr("stroke", "#333").attr("stroke-width", 1);
legendItems.forEach((d, i) => {
  const yy = 542 + i * 15;
  svg.append("line").attr("x1", 727).attr("x2", 787).attr("y1", yy).attr("y2", yy)
    .attr("stroke", d.color).attr("stroke-width", 1.6).attr("stroke-dasharray", d.dash);
  svg.append("text").attr("x", 808).attr("y", yy + 4.5).attr("text-anchor", "middle")
    .style("font-weight", "bold").style("font-size", "13px").text(d.name);
});
</script>
</body>
</html>
